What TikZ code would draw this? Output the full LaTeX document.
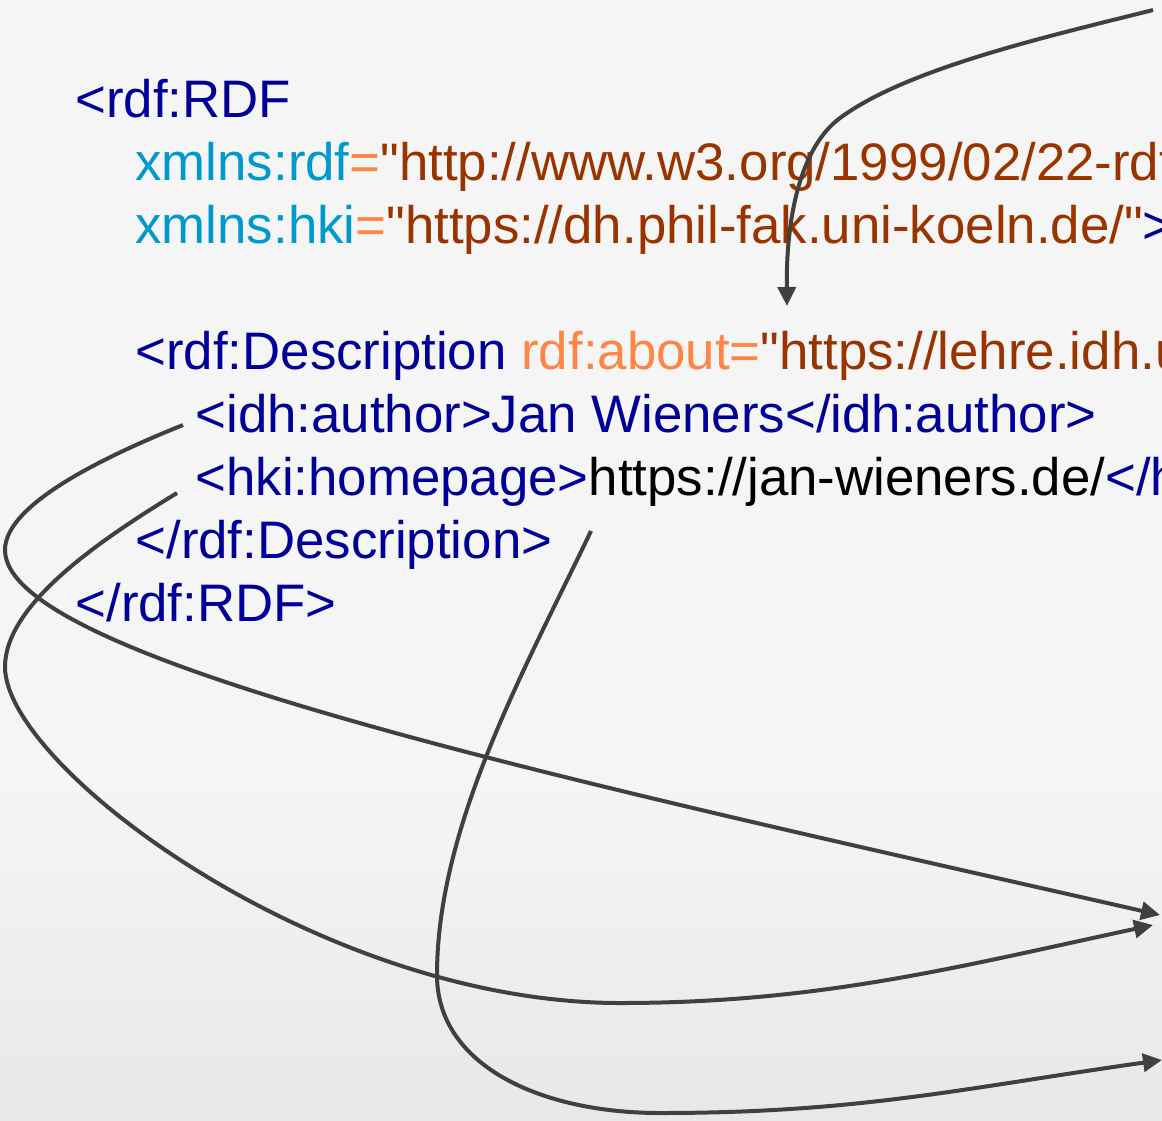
\documentclass[tikz,border=0pt]{standalone}
\usepackage{fontspec}
\newfontfamily\codefont{Liberation Sans}
\usetikzlibrary{arrows.meta}
\definecolor{tagc}{HTML}{000099}
\definecolor{attc}{HTML}{0099CC}
\definecolor{eqc}{HTML}{FF8545}
\definecolor{valc}{HTML}{993300}
\definecolor{arrc}{HTML}{404040}
\definecolor{bgtop}{HTML}{F5F5F5}
\definecolor{bgbot}{HTML}{E8E8E8}
\begin{document}
\begin{tikzpicture}[x=1pt,y=-1pt,
  code/.style={anchor=base west,inner sep=0pt,outer sep=0pt,font=\codefont\fontsize{52.8}{63}\selectfont},
  link/.style={draw=arrc,line width=4pt,-{Triangle[length=19pt,width=18pt]}}]
\clip (0,0) rectangle (1162,1120);
\fill[bgtop] (0,0) rectangle (1162,1120);
\shade[top color=bgtop,bottom color=bgbot] (0,780) rectangle (1162,1120);
% code lines
\node[code] (l1) at (75.5,117) {\color{tagc}<rdf:RDF};
\node[code] (l2) at (135.5,180.1) {\color{attc}xmlns:rdf\color{eqc}=\color{valc}"http://www.w3.org/1999/02/22-rdf-syntax-ns\#"};
\node[code] (l3) at (135.5,243.2) {\color{attc}xmlns:hki\color{eqc}=\color{valc}"https://dh.phil-fak.uni-koeln.de/"\color{tagc}>};
\node[code] (l4) at (135.5,369.4) {\color{tagc}<rdf:Description \color{eqc}rdf:about=\color{valc}"https://lehre.idh.uni-koeln.de/"\color{tagc}>};
\node[code] (l5) at (195.5,432.5) {\color{tagc}<idh:author>Jan Wieners</idh:author>};
\node[code] (l6) at (195.5,495.6) {\color{tagc}<hki:homepage>\color{black}https://jan-wieners.de/\color{tagc}</hki:homepage>};
\node[code] (l7) at (135.5,558.7) {\color{tagc}</rdf:Description>};
\node[code] (l8) at (75.5,621.8) {\color{tagc}</rdf:RDF>};
% connector end points
\coordinate (tS) at (1153,10);
\coordinate (tM) at (840,118);
\coordinate (tE) at (787,306);
\coordinate (aS) at (183,425);
\coordinate (aM) at (5,550);
\coordinate (aE) at (1160,915);
\coordinate (hS) at (177,493);
\coordinate (hM) at (5,667);
\coordinate (hB) at (620,1003);
\coordinate (hE) at (1153,925);
\coordinate (bS) at (591,531);
\coordinate (bM) at (437,975);
\coordinate (bB) at (660,1113);
\coordinate (bE) at (1162,1060);
% connectors
\draw[link] (tS) .. controls (1050,36) and (907.5,68) .. (tM)
  .. controls (799.5,148) and (786,220) .. (tE);
\draw[link] (aS) .. controls (81,466) and (5,510) .. (aM)
  .. controls (5,660) and (575,782) .. (aE);
\draw[link] (hS) .. controls (91.7,545) and (5,607) .. (hM)
  .. controls (5,767) and (320,1003) .. (hB)
  .. controls (820,1003) and (957,967) .. (hE);
\draw[link] (bS) .. controls (526.5,666) and (437,825) .. (bM)
  .. controls (437,1065) and (540,1113) .. (bB)
  .. controls (860,1113) and (964,1088) .. (bE);
\end{tikzpicture}
\end{document}
